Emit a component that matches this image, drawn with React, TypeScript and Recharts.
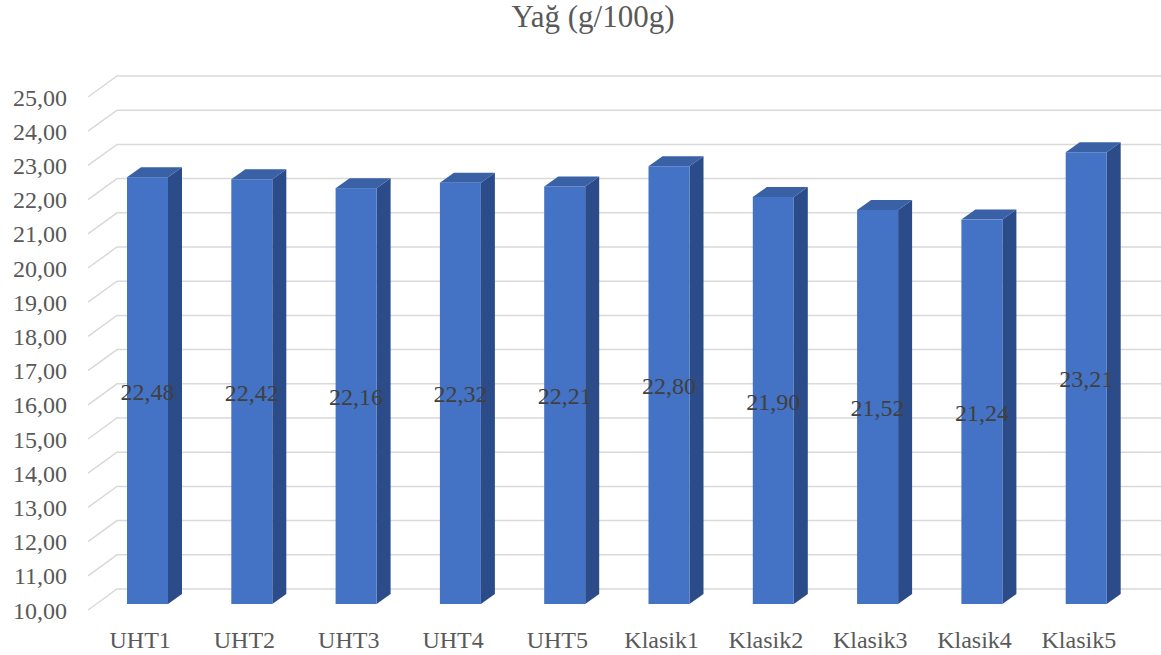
import { BarChart, Bar, XAxis, YAxis, CartesianGrid } from "recharts";

const categories = ["UHT1", "UHT2", "UHT3", "UHT4", "UHT5", "Klasik1", "Klasik2", "Klasik3", "Klasik4", "Klasik5"];
const fatValues = [22.48, 22.42, 22.16, 22.32, 22.21, 22.8, 21.9, 21.52, 21.24, 23.21];
const yTicks = [10, 11, 12, 13, 14, 15, 16, 17, 18, 19, 20, 21, 22, 23, 24, 25];

const chartData = categories.map((c, i) => ({ name: c, fat: fatValues[i] }));

const fmt = (v: number) => v.toFixed(2).replace(".", ",");

const SERIF = "'Liberation Serif', 'Times New Roman', Times, 'DejaVu Serif', serif";

// 3D look: the bars sit a bit behind the label plane, walls further back
const SHIFT_X = 7;
const SHIFT_Y = -6;
const DEPTH_X = 14;
const DEPTH_Y = 10;

function Bar3D(props: any) {
  const { x, y, width, height } = props;
  if (x == null || y == null) return null;
  const fx = x + SHIFT_X;
  const fy = y + SHIFT_Y;
  const fb = y + height + SHIFT_Y;
  const w = width;
  return (
    <g>
      <polygon
        points={`${fx + w},${fy} ${fx + w + DEPTH_X},${fy - DEPTH_Y} ${fx + w + DEPTH_X},${fb - DEPTH_Y} ${fx + w},${fb}`}
        fill="#2B4C88"
      />
      <polygon
        points={`${fx},${fy} ${fx + DEPTH_X},${fy - DEPTH_Y} ${fx + w + DEPTH_X},${fy - DEPTH_Y} ${fx + w},${fy}`}
        fill="#3A60A6"
      />
      <rect x={fx} y={fy} width={w} height={fb - fy} fill="#4472C4" />
    </g>
  );
}

function BarLabel(props: any) {
  const vb = props.viewBox || {};
  const x = props.x ?? vb.x;
  const y = props.y ?? vb.y;
  const width = props.width ?? vb.width;
  const height = props.height ?? vb.height;
  return (
    <text
      x={x + width / 2 + SHIFT_X}
      y={y + height / 2 + SHIFT_Y + 9}
      textAnchor="middle"
      fill="#404040"
      fontSize={24}
      style={{ fontFamily: SERIF }}
    >
      {fmt(Number(props.value))}
    </text>
  );
}

function YTick(props: any) {
  const { y, payload } = props;
  return (
    <text x={67} y={y + 8.5} textAnchor="end" fill="#595959" fontSize={24} style={{ fontFamily: SERIF }}>
      {fmt(payload.value)}
    </text>
  );
}

function XTick(props: any) {
  const { x, payload } = props;
  return (
    <text x={x} y={648} textAnchor="middle" fill="#595959" fontSize={24} style={{ fontFamily: SERIF }}>
      {payload.value}
    </text>
  );
}

function WallLine(props: any) {
  const { x1, y1, index } = props;
  return (
    <path
      key={`wl-${index}-${y1}`}
      d={`M${x1},${y1} L${x1 + 29},${y1 - 21} L1161,${y1 - 21}`}
      stroke="#D9D9D9"
      strokeWidth={1.5}
      fill="none"
    />
  );
}

export default function App() {
  return (
    <div style={{ position: "absolute", left: 0, top: 0, width: 1161, height: 655, background: "#fff" }}>
      <svg width={1161} height={50} style={{ position: "absolute", left: 0, top: 0 }}>
        <text x={593} y={27} textAnchor="middle" fill="#595959" fontSize={31} style={{ fontFamily: SERIF }}>
          Yağ (g/100g)
        </text>
      </svg>
      <div style={{ position: "absolute", left: 0, top: 0 }}>
        <BarChart width={1161} height={655} data={chartData} margin={{ top: 97, right: 30, bottom: 0, left: 0 }}>
          <CartesianGrid vertical={false} horizontal={WallLine as any} />
          <XAxis dataKey="name" height={45} axisLine={false} tickLine={false} tick={<XTick />} interval={0} />
          <YAxis
            width={88}
            domain={[10, 25]}
            ticks={yTicks}
            axisLine={false}
            tickLine={false}
            tick={<YTick />}
            interval={0}
          />
          <Bar dataKey="fat" barSize={41} shape={<Bar3D />} label={<BarLabel />} isAnimationActive={false} />
        </BarChart>
      </div>
    </div>
  );
}
